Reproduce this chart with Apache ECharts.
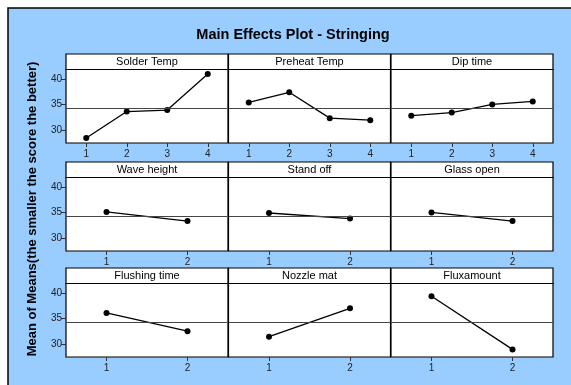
<!DOCTYPE html>
<html>
<head>
<meta charset="utf-8">
<script src="https://cdn.jsdelivr.net/npm/echarts@6/dist/echarts.min.js"></script>
<style>
html,body{margin:0;padding:0;background:#fff;overflow:hidden;}
#chart{width:571px;height:385px;}
</style>
</head>
<body>
<div id="chart"></div>
<script>
// ---- data ----
const chartTitle = 'Main Effects Plot - Stringing';
const yAxisTitle = 'Mean of Means(the smaller the score the better)';
const factorNames = ['Solder Temp', 'Preheat Temp', 'Dip time',
                     'Wave height', 'Stand off', 'Glass open',
                     'Flushing time', 'Nozzle mat', 'Fluxamount'];
const levels4 = ['1', '2', '3', '4'];
const levels2 = ['1', '2'];
const solderTemp   = [28.4, 33.6, 33.9, 41.0];
const preheatTemp  = [35.4, 37.4, 32.3, 31.9];
const dipTime      = [32.8, 33.4, 35.0, 35.6];
const waveHeight   = [35.1, 33.3];
const standOff     = [34.9, 33.8];
const glassOpen    = [35.0, 33.3];
const flushingTime = [36.1, 32.5];
const nozzleMat    = [31.4, 37.0];
const fluxAmount   = [39.4, 28.9];
const grandMean = 34.2;
const yTickValues = [30, 35, 40];

const panelValues = [solderTemp, preheatTemp, dipTime, waveHeight, standOff,
                     glassOpen, flushingTime, nozzleMat, fluxAmount];
const panelLevels = [levels4, levels4, levels4, levels2, levels2,
                     levels2, levels2, levels2, levels2];

// ---- layout ----
const colLeft = [66, 228.5, 391];
const colWidth = 162;
const headerTop = [54, 162, 268];
const headerH = 15.5;
const plotH = 73.5;
const yMin = 27.4, yMax = 41.9;
const FONT = '"Liberation Sans", Arial, sans-serif';

const grids = [], xAxes = [], yAxes = [], series = [], graphics = [];

graphics.push({
  type: 'rect', z: -10,
  shape: {x: 8, y: 8, width: 600, height: 400},
  style: {fill: '#99CCFF'}
});
graphics.push({
  type: 'polyline', z: -9,
  shape: {points: [[8, 400], [8, 8], [600, 8]]},
  style: {stroke: '#000', lineWidth: 1.5, fill: null}
});
graphics.push({
  type: 'text', x: 293, y: 35,
  style: {text: chartTitle, font: 'bold 14.5px ' + FONT, fill: '#000',
          textAlign: 'center', textVerticalAlign: 'middle'}
});
graphics.push({
  type: 'text', x: 32, y: 209, rotation: Math.PI / 2,
  style: {text: yAxisTitle, font: 'bold 13px ' + FONT, fill: '#000',
          textAlign: 'center', textVerticalAlign: 'middle'}
});

for (let i = 0; i < 9; i++) {
  const r = Math.floor(i / 3), c = i % 3;
  const left = colLeft[c];
  const top = headerTop[r] + headerH;
  grids.push({
    left: left, top: top, width: colWidth, height: plotH,
    show: true, backgroundColor: '#fff', borderColor: '#000', borderWidth: 1.2,
    containLabel: false
  });
  graphics.push({
    type: 'rect', z: 10,
    shape: {x: left, y: headerTop[r], width: colWidth, height: headerH},
    style: {fill: '#fff', stroke: '#000', lineWidth: 1.2}
  });
  graphics.push({
    type: 'text', z: 11, x: left + colWidth / 2, y: headerTop[r] + headerH / 2 + 0.5,
    style: {text: factorNames[i], font: '11px ' + FONT, fill: '#000',
            textAlign: 'center', textVerticalAlign: 'middle'}
  });
  xAxes.push({
    gridIndex: i, type: 'category', data: panelLevels[i], boundaryGap: true,
    axisLine: {show: false},
    axisTick: {show: true, alignWithLabel: true, length: 4, lineStyle: {color: '#333', width: 1}},
    axisLabel: {show: true, fontSize: 10, fontFamily: FONT, color: '#222', margin: 6},
    splitLine: {show: false}
  });
  const showY = c === 0;
  yAxes.push({
    gridIndex: i, type: 'value', min: yMin, max: yMax,
    axisLine: {show: false},
    axisTick: {show: showY, length: 5, customValues: yTickValues, lineStyle: {color: '#333', width: 1}},
    axisLabel: {show: showY, fontSize: 10, fontFamily: FONT, color: '#222', margin: 4, customValues: yTickValues},
    splitLine: {show: false}
  });
  series.push({
    type: 'line', xAxisIndex: i, yAxisIndex: i,
    data: panelValues[i],
    symbol: 'circle', symbolSize: 6,
    itemStyle: {color: '#000'},
    lineStyle: {color: '#000', width: 1.3},
    animation: false, silent: true,
    markLine: {
      silent: true, symbol: ['none', 'none'], label: {show: false},
      lineStyle: {color: '#444', width: 1, type: 'solid'},
      data: [{yAxis: grandMean}], animation: false
    }
  });
}

const chart = echarts.init(document.getElementById('chart'), null, {renderer: 'canvas'});
chart.setOption({
  backgroundColor: '#fff',
  animation: false,
  grid: grids, xAxis: xAxes, yAxis: yAxes, series: series,
  graphic: graphics
});
</script>
</body>
</html>
